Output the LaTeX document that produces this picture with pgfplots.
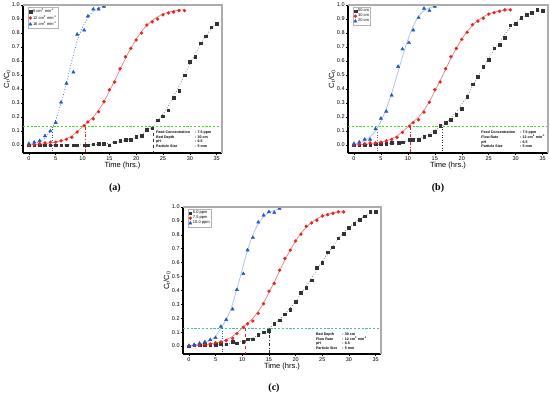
\documentclass[border=0pt]{standalone}
\usepackage{fontspec}
\setmainfont{Liberation Sans}
\newfontfamily\capfont{Liberation Serif}
\usepackage{pgfplots}
\pgfplotsset{compat=1.18}
\definecolor{cblk}{HTML}{333333}
\definecolor{cred}{HTML}{E8241F}
\definecolor{cblu}{HTML}{1F58C8}
\definecolor{fred}{HTML}{F27C7C}
\definecolor{fblu}{HTML}{A8BCF0}
\definecolor{fblk}{HTML}{666666}
\definecolor{lgreen}{RGB}{70,220,40}
\definecolor{lteal}{RGB}{62,194,166}
\pgfplotsset{
 bt/.style={
  scale only axis, width=199pt, height=148pt,
  xmin=-1.1, xmax=36, ymin=-0.057, ymax=1.0,
  axis x line*=bottom, axis y line*=left,
  axis line style={black, line width=1.1pt, -},
  xtick={0,5,10,15,20,25,30,35},
  ytick={0,0.1,0.2,0.3,0.4,0.5,0.6,0.7,0.8,0.9,1.0},
  tick align=outside, tick style={black, line width=0.45pt},
  major tick length=2.2pt,
  yticklabel style={/pgf/number format/fixed, /pgf/number format/fixed zerofill, /pgf/number format/precision=1},
  /pgf/number format/assume math mode=true,
  tick label style={font=\fontsize{5.5}{6}\selectfont, inner sep=1pt},
  xlabel={Time (hrs.)}, ylabel={C\textsubscript{t}/C\textsubscript{0}},
  label style={font=\fontsize{7.5}{8}\selectfont},
  xlabel style={yshift=3pt}, ylabel style={yshift=-3pt},
  legend style={draw=gray!60, line width=0.3pt, font=\fontsize{4}{4.5}\selectfont,
    at={(0.025,0.985)}, anchor=north west, inner sep=0.6pt, row sep=-1.2pt,
    legend cell align=left, nodes={inner sep=1pt}},
  after end axis/.code={\draw[gray!65, line width=1.1pt] (rel axis cs:0,1) -- (rel axis cs:1,1) -- (rel axis cs:1,0);},
 },
 mk1/.style={only marks, mark=square*, mark size=1.3pt, color=cblk},
 mk2/.style={only marks, mark=*, mark size=1.5pt, color=cred},
 mk3/.style={only marks, mark=triangle*, mark size=1.9pt, color=cblu},
 hl/.style={dash pattern=on 2.2pt off 1.6pt, line width=0.75pt, forget plot},
}
\newcommand{\info}[1]{{\fontsize{3.6}{4.6}\selectfont\bfseries\begin{tabular}{@{}l@{\hspace{5pt}}l@{}}#1\end{tabular}}}
\begin{document}
\begin{tikzpicture}
\path[use as bounding box] (0pt,0pt) rectangle (550pt,398pt);
% ---------------- (a)
\begin{axis}[bt, at={(23pt,245pt)}, anchor=south west]
\addplot[hl, color=lgreen] coordinates {(-1.1,0.13) (36,0.13)};
\addplot[cblu, dotted, line width=0.6pt, forget plot] coordinates {(4.4,0.13) (4.4,-0.057)};
\addplot[cred, dash dot, line width=0.6pt, forget plot] coordinates {(10.5,0.13) (10.5,-0.057)};
\addplot[cblk, dashed, line width=0.6pt, forget plot] coordinates {(23.2,0.13) (23.2,-0.057)};
% fits
\addplot[fblk, dotted, line width=0.7pt, smooth, forget plot] coordinates {(0,0) (4,0) (8,0) (12,0.003) (14,0.008) (16,0.018) (18,0.033) (20,0.055) (21,0.075) (22,0.1) (23,0.13) (24,0.17) (25,0.22) (26,0.28) (27,0.35) (28,0.42) (29,0.5) (30,0.58) (31,0.65) (32,0.72) (33,0.78) (34,0.83) (35,0.87)};
\addplot[fred, line width=0.7pt, smooth, forget plot] coordinates {(0,0) (2,0.005) (4,0.015) (6,0.03) (7,0.045) (8,0.065) (9,0.095) (10,0.13) (11,0.165) (12,0.2) (13,0.25) (14,0.31) (15,0.385) (16,0.46) (17,0.54) (18,0.62) (19,0.69) (20,0.755) (21,0.81) (22,0.855) (23,0.89) (24,0.915) (25,0.935) (26,0.948) (27,0.957) (28,0.963) (29,0.967)};
\addplot[cblu, dotted, line width=0.7pt, smooth, forget plot] coordinates {(0,0.005) (1,0.012) (2,0.025) (3,0.05) (4,0.1) (5,0.18) (6,0.3) (7,0.44) (8,0.6) (9,0.74) (10,0.84) (11,0.91) (12,0.955) (13,0.98) (14,0.99)};
% data
\addplot[mk1] coordinates {(0,0) (1,0) (2,0) (3,0) (4,0) (5,0) (6,0) (7,0) (8.3,0) (9,0) (10.3,0) (11,0) (12,0.005) (13,0.008) (14,0.01) (15,-0.002) (16,0.02) (17,0.03) (18,0.04) (19,0.04) (20,0.06) (21,0.065) (22,0.11) (23,0.12) (24,0.178) (25,0.207) (26,0.25) (27,0.34) (28,0.39) (29,0.5) (30,0.594) (31,0.63) (32,0.727) (33,0.777) (34,0.84) (35,0.865)};
\addlegendentry{8 cm\textsuperscript{3} min\textsuperscript{-1}}
\addplot[mk2] coordinates {(0,0) (1,0.005) (2,0.01) (3,0.015) (4,0.02) (5,0.02) (6,0.03) (7,0.04) (8,0.055) (9,0.093) (10.3,0.138) (11,0.164) (12,0.187) (13,0.238) (14,0.309) (15,0.394) (16,0.45) (17,0.544) (18,0.63) (19,0.69) (20,0.75) (21,0.80) (22,0.857) (23,0.88) (24,0.90) (25,0.93) (26,0.943) (27,0.95) (28,0.96) (29,0.96)};
\addlegendentry{12 cm\textsuperscript{3} min\textsuperscript{-1}}
\addplot[mk3] coordinates {(0,0.01) (1,0.02) (2,0.03) (3,0.065) (4,0.1) (5,0.16) (6,0.305) (7,0.44) (8.3,0.52) (9,0.79) (10.3,0.82) (11,0.92) (12,0.97) (13,0.97) (14,0.99)};
\addlegendentry{16 cm\textsuperscript{3} min\textsuperscript{-1}}
\node[anchor=north west, inner sep=0pt] at (axis cs:23.7,0.107) {\info{Feed Concentration & : 7.5 ppm\\ Bed Depth & : 30 cm\\ pH & : 6.5\\ Particle Size & : 5 mm}};
\end{axis}
% ---------------- (b)
\begin{axis}[bt, width=200pt, at={(348pt,245pt)}, anchor=south west]
\addplot[hl, color=lgreen] coordinates {(-1.1,0.13) (36,0.13)};
\addplot[fblk, dotted, line width=0.6pt, forget plot] coordinates {(4.3,0.13) (4.3,-0.057)};
\addplot[cred, dash dot, line width=0.6pt, forget plot] coordinates {(10.5,0.13) (10.5,-0.057)};
\addplot[cblk, dotted, line width=0.6pt, forget plot] coordinates {(16.4,0.13) (16.4,-0.057)};
\addplot[fblk, dotted, line width=0.7pt, smooth, forget plot] coordinates {(0,0) (4,0.005) (8,0.015) (10,0.03) (12,0.05) (13,0.065) (14,0.08) (15,0.105) (16,0.13) (17,0.16) (18,0.195) (19,0.24) (20,0.29) (21,0.35) (22,0.42) (23,0.49) (24,0.555) (25,0.62) (26,0.68) (27,0.735) (28,0.79) (29,0.84) (30,0.875) (31,0.905) (32,0.93) (33,0.945) (34,0.955) (35,0.96)};
\addplot[fred, line width=0.7pt, smooth, forget plot] coordinates {(0,0) (2,0.005) (4,0.015) (6,0.03) (7,0.045) (8,0.065) (9,0.095) (10,0.13) (11,0.165) (12,0.2) (13,0.25) (14,0.31) (15,0.385) (16,0.46) (17,0.54) (18,0.62) (19,0.69) (20,0.755) (21,0.81) (22,0.855) (23,0.89) (24,0.915) (25,0.935) (26,0.948) (27,0.957) (28,0.963) (29,0.967)};
\addplot[fblu, line width=0.7pt, smooth, forget plot] coordinates {(0,0.005) (1,0.015) (2,0.03) (3,0.06) (4,0.1) (5,0.17) (6,0.26) (7,0.37) (8,0.5) (9,0.63) (10,0.75) (11,0.85) (12,0.92) (13,0.96) (14,0.98) (15,0.99)};
\addplot[mk1] coordinates {(0,0) (1,0) (2,0) (3,0) (4,0.005) (5,0.01) (6,0.01) (7,0.015) (8.3,0.015) (9,0.02) (10.3,0.04) (11,0.04) (12,0.04) (13,0.06) (14,0.07) (15,0.095) (16,0.14) (17,0.16) (18,0.18) (19,0.215) (20,0.26) (21,0.345) (22,0.435) (23,0.49) (24,0.56) (25,0.61) (26,0.69) (27,0.715) (28,0.765) (29,0.855) (30,0.865) (31,0.91) (32,0.93) (33,0.945) (34,0.965) (35,0.96)};
\addlegendentry{50 cm}
\addplot[mk2] coordinates {(0,0) (1,0.005) (2,0.01) (3,0.015) (4,0.015) (5,0.02) (6,0.03) (7,0.04) (8,0.055) (9,0.09) (10.3,0.135) (11,0.16) (12,0.18) (13,0.235) (14,0.305) (15,0.395) (16,0.45) (17,0.545) (18,0.63) (19,0.69) (20,0.755) (21,0.805) (22,0.86) (23,0.885) (24,0.905) (25,0.935) (26,0.945) (27,0.955) (28,0.965) (29,0.965)};
\addlegendentry{30 cm}
\addplot[mk3] coordinates {(0,0.01) (1,0.02) (2,0.04) (3,0.04) (4,0.115) (5,0.19) (6,0.24) (7,0.355) (8.2,0.56) (9,0.685) (10.2,0.73) (11,0.82) (12,0.91) (13,0.975) (14,0.96) (15,0.99)};
\addlegendentry{20 cm}
\node[anchor=north west, inner sep=0pt] at (axis cs:23.6,0.107) {\info{Feed Concentration & : 7.5 ppm\\ Flow Rate & : 12 cm\textsuperscript{3} min\textsuperscript{-1}\\ pH & : 6.5\\ Particle Size & : 5 mm}};
\end{axis}
% ---------------- (c)
\begin{axis}[bt, width=198pt, height=147pt, at={(183pt,44pt)}, anchor=south west]
\addplot[hl, color=lteal] coordinates {(-1.1,0.13) (36,0.13)};
\addplot[cblu, dotted, line width=0.6pt, forget plot] coordinates {(6.2,0.13) (6.2,-0.057)};
\addplot[cred, dashed, line width=0.6pt, forget plot] coordinates {(10.5,0.13) (10.5,-0.057)};
\addplot[cblk, dash dot, line width=0.6pt, forget plot] coordinates {(15,0.13) (15,-0.057)};
\addplot[fblk, dotted, line width=0.7pt, smooth, forget plot] coordinates {(0,0) (5,0.01) (8,0.02) (10,0.035) (11,0.045) (12,0.06) (13,0.08) (14,0.1) (15,0.125) (16,0.155) (17,0.19) (18,0.23) (19,0.275) (20,0.32) (21,0.375) (22,0.43) (23,0.49) (24,0.55) (25,0.61) (26,0.665) (27,0.72) (28,0.77) (29,0.815) (30,0.855) (31,0.885) (32,0.915) (33,0.935) (34,0.955) (35,0.965)};
\addplot[fred, line width=0.7pt, smooth, forget plot] coordinates {(0,0) (2,0.005) (4,0.015) (6,0.03) (7,0.045) (8,0.065) (9,0.095) (10,0.13) (11,0.165) (12,0.2) (13,0.25) (14,0.31) (15,0.385) (16,0.46) (17,0.54) (18,0.62) (19,0.69) (20,0.755) (21,0.81) (22,0.855) (23,0.89) (24,0.915) (25,0.935) (26,0.948) (27,0.957) (28,0.963) (29,0.967)};
\addplot[fblu, line width=0.7pt, smooth, forget plot] coordinates {(0,0.005) (2,0.015) (3,0.025) (4,0.04) (5,0.07) (6,0.13) (7,0.19) (8,0.28) (9,0.41) (10,0.55) (11,0.69) (12,0.8) (13,0.88) (14,0.93) (15,0.96) (16,0.975) (17,0.99)};
\addplot[mk1] coordinates {(0,0) (1,0.005) (2,0.005) (3,0.01) (4,0.01) (5,0.01) (6,0.015) (7,0.012) (8.2,0.03) (9,0.02) (10.2,0.03) (11,0.05) (12,0.05) (13,0.08) (14,0.1) (15,0.11) (16,0.16) (17,0.185) (18,0.23) (19,0.26) (20,0.32) (21,0.385) (22,0.42) (23,0.475) (24,0.565) (25,0.60) (26,0.675) (27,0.71) (28,0.775) (29,0.81) (30,0.85) (31,0.88) (32,0.91) (33,0.935) (34,0.965) (35,0.965)};
\addlegendentry{5.0 ppm}
\addplot[mk2] coordinates {(0,0) (1,0.005) (2,0.005) (3,0.01) (4,0.015) (5,0.025) (6,0.03) (7,0.04) (8.2,0.055) (9,0.09) (10.2,0.135) (11,0.16) (12,0.18) (13,0.235) (14,0.305) (15,0.395) (16,0.45) (17,0.545) (18,0.63) (19,0.69) (20,0.755) (21,0.805) (22,0.86) (23,0.885) (24,0.905) (25,0.935) (26,0.945) (27,0.955) (28,0.965) (29,0.965)};
\addlegendentry{7.5 ppm}
\addplot[mk3] coordinates {(0,0.003) (1,0.01) (2,0.02) (3,0.03) (4,0.045) (5,0.06) (6,0.14) (7,0.19) (8.2,0.265) (9,0.405) (10.2,0.52) (11,0.69) (12,0.78) (13,0.89) (14,0.94) (15,0.965) (16,0.96) (17,0.99)};
\addlegendentry{10.0 ppm}
\node[anchor=north west, inner sep=0pt] at (axis cs:23.8,0.103) {\info{Bed Depth & : 30 cm\\ Flow Rate & : 12 cm\textsuperscript{3} min\textsuperscript{-1}\\ pH & : 6.5\\ Particle Size & : 5 mm}};
\end{axis}
\node[font=\capfont\bfseries\fontsize{10}{12}\selectfont] at (115pt,210pt) {(a)};
\node[font=\capfont\bfseries\fontsize{10}{12}\selectfont] at (438pt,210pt) {(b)};
\node[font=\capfont\bfseries\fontsize{10}{12}\selectfont] at (274pt,10pt) {(c)};
\end{tikzpicture}
\end{document}
